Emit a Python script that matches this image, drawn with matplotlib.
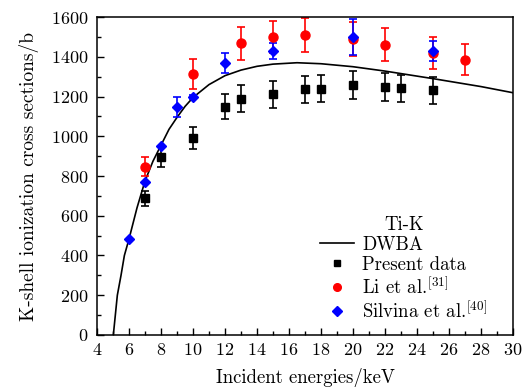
import matplotlib
matplotlib.use("Agg")
import matplotlib.pyplot as plt
from matplotlib.ticker import MultipleLocator

plt.rcParams['font.family'] = ['cmr10', 'DejaVu Serif']
plt.rcParams['mathtext.fontset'] = 'cm'
plt.rcParams['axes.formatter.use_mathtext'] = True
plt.rcParams['font.size'] = 13.5

# DWBA theory curve
dwba_x = [5.02, 5.27, 5.5, 5.71, 6.0, 6.5, 7.0, 7.5, 8.0, 8.5, 9.0, 9.5, 10, 11, 12, 13, 14, 15, 16.5, 18, 20, 22, 25, 28, 30]
dwba_y = [0, 200, 300, 400, 483, 640, 775, 875, 955, 1035, 1095, 1150, 1195, 1260, 1305, 1333, 1352, 1363, 1370, 1365, 1350, 1328, 1290, 1250, 1219]

# Present data
pres_x = [7, 8, 10, 12, 13, 15, 17, 18, 20, 22, 23, 25]
pres_y = [688, 897, 993, 1149, 1190, 1211, 1236, 1240, 1256, 1248, 1242, 1232]
pres_err = [38, 52, 55, 63, 66, 67, 68, 69, 70, 69, 68, 68]

# Li et al.
li_x = [7, 10, 13, 15, 17, 20, 22, 25, 27]
li_y = [847, 1312, 1468, 1501, 1508, 1488, 1461, 1417, 1385]
li_err = [48, 75, 82, 80, 85, 85, 82, 80, 79]

# Silvina et al.
sil_x = [6, 7, 8, 9, 10, 12, 15, 20, 25]
sil_y = [483, 771, 951, 1149, 1199, 1370, 1429, 1498, 1429]
sil_err = [0, 0, 0, 50, 10, 50, 40, 90, 50]

fig = plt.figure(figsize=(5.31, 3.87), dpi=100)
ax = fig.add_axes([0.1827, 0.1344, 0.9661 - 0.1827, 0.956 - 0.1344])

ln, = ax.plot(dwba_x, dwba_y, color='black', lw=1.2, label='DWBA')
ax.errorbar(pres_x, pres_y, yerr=pres_err, fmt='s', color='black', ms=5.5,
            capsize=2.7, elinewidth=1.2, capthick=1.2, ecolor='black')
ax.errorbar(li_x, li_y, yerr=li_err, fmt='o', color='red', ms=6.5,
            capsize=2.7, elinewidth=1.2, capthick=1.2, ecolor='red')
ax.errorbar(sil_x, sil_y, yerr=sil_err, fmt='D', color='blue', ms=5.5,
            capsize=2.7, elinewidth=1.2, capthick=1.2, ecolor='blue')

h_pres, = ax.plot([], [], 's', color='black', ms=5)
h_li, = ax.plot([], [], 'o', color='red', ms=5.5)
h_sil, = ax.plot([], [], 'D', color='blue', ms=5)

leg = ax.legend([ln, h_pres, h_li, h_sil],
                ['DWBA', 'Present data', r'Li et al.$^{[31]}$', r'Silvina et al.$^{[40]}$'],
                title='Ti-K', frameon=False, loc='lower right',
                bbox_to_anchor=(0.97, 0.0), handlelength=1.8, handletextpad=0.45,
                labelspacing=0.12, borderaxespad=0.3)

ax.set_xlim(4, 30)
ax.set_ylim(0, 1600)
ax.xaxis.set_major_locator(MultipleLocator(2))
ax.xaxis.set_minor_locator(MultipleLocator(1))
ax.yaxis.set_major_locator(MultipleLocator(200))
ax.yaxis.set_minor_locator(MultipleLocator(100))
ax.tick_params(which='both', direction='in', top=False, right=False)
ax.tick_params(which='major', length=5, width=1, labelsize=13)
ax.tick_params(which='minor', length=3, width=1)
ax.tick_params(axis='x', pad=5)
ax.tick_params(axis='y', pad=6)
for s in ax.spines.values():
    s.set_linewidth(1.1)

ax.set_xlabel('Incident energies/keV', labelpad=7)
ax.set_ylabel('K-shell ionization cross sections/b', labelpad=9, fontsize=14)

fig.savefig('out.png', dpi=100)
